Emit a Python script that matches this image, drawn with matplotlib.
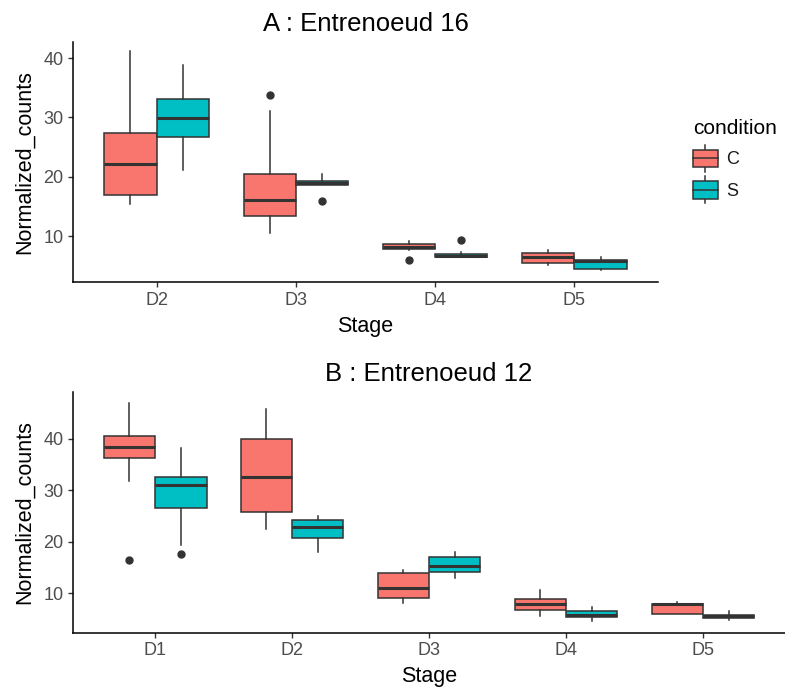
import matplotlib
matplotlib.use('Agg')
import matplotlib.pyplot as plt
from matplotlib.patches import Rectangle
from matplotlib.lines import Line2D
from matplotlib.legend_handler import HandlerBase

plt.rcParams['font.family'] = ['Liberation Sans', 'DejaVu Sans']

# =================
# DATA (box stats)
# =================
conditions = ['C', 'S']
cond_colors = ['#F8766D', '#00BFC4']

# A : Entrenoeud 16
stages_a = ['D2', 'D3', 'D4', 'D5']
a_c_whislo = [15.4, 10.5, 7.6, 5.05]
a_c_q1 = [16.9, 13.45, 7.85, 5.4]
a_c_med = [22.2, 16.0, 8.2, 6.4]
a_c_q3 = [27.4, 20.5, 8.64, 7.1]
a_c_whishi = [41.1, 31.1, 9.2, 7.7]
a_c_fliers = [[], [33.7], [5.9], []]

a_s_whislo = [21.1, 18.6, 6.4, 4.3]
a_s_q1 = [26.7, 18.6, 6.4, 4.4]
a_s_med = [29.95, 19.0, 6.65, 5.8]
a_s_q3 = [33.1, 19.3, 6.9, 5.95]
a_s_whishi = [38.8, 20.4, 7.3, 6.45]
a_s_fliers = [[], [15.9], [9.4], []]

# B : Entrenoeud 12
stages_b = ['D1', 'D2', 'D3', 'D4', 'D5']
b_c_whislo = [31.8, 22.5, 8.2, 5.65, 6.0]
b_c_q1 = [36.2, 25.7, 9.15, 6.85, 6.0]
b_c_med = [38.45, 32.6, 10.97, 7.9, 8.0]
b_c_q3 = [40.6, 40.0, 13.9, 8.9, 8.0]
b_c_whishi = [46.9, 45.7, 14.5, 10.6, 8.3]
b_c_fliers = [[16.4], [], [], [], []]

b_s_whislo = [19.4, 18.0, 12.9, 4.6, 4.8]
b_s_q1 = [26.6, 20.65, 14.2, 5.45, 5.2]
b_s_med = [30.95, 22.8, 15.2, 5.8, 5.55]
b_s_q3 = [32.5, 24.2, 17.05, 6.6, 5.8]
b_s_whishi = [38.1, 24.9, 17.95, 7.3, 6.6]
b_s_fliers = [[17.55], [], [], [], []]


def make_stats(whislo, q1, med, q3, whishi, fliers):
    return [dict(whislo=a, q1=b, med=c, q3=d, whishi=e, fliers=f)
            for a, b, c, d, e, f in zip(whislo, q1, med, q3, whishi, fliers)]


EDGE = '#333333'


def draw_panel(ax, stages, series, title, ylim):
    n = len(stages)
    w = 0.375
    for k, (stats, col) in enumerate(zip(series, cond_colors)):
        pos = [i + 1 + (k - 0.5) * w for i in range(n)]
        ax.bxp(stats, positions=pos, widths=w, patch_artist=True,
               showcaps=False, manage_ticks=False,
               boxprops=dict(facecolor=col, edgecolor=EDGE, linewidth=1.1),
               medianprops=dict(color=EDGE, linewidth=2.2, solid_capstyle='butt'),
               whiskerprops=dict(color=EDGE, linewidth=1.1),
               flierprops=dict(marker='o', markerfacecolor=EDGE,
                               markeredgecolor=EDGE, markersize=5))
    ax.set_xlim(0.4, n + 0.6)
    ax.set_ylim(*ylim)
    ax.set_xticks(range(1, n + 1))
    ax.set_xticklabels(stages)
    ax.set_yticks([10, 20, 30, 40])
    for s in ['top', 'right']:
        ax.spines[s].set_visible(False)
    for s in ['left', 'bottom']:
        ax.spines[s].set_linewidth(1.1)
        ax.spines[s].set_color('black')
    ax.tick_params(length=3.5, width=1.0, color=EDGE, labelcolor='#4D4D4D',
                   labelsize=13, pad=3.5)
    ax.set_xlabel('Stage', fontsize=15.5, labelpad=5)
    ax.set_ylabel('Normalized_counts', fontsize=15.5, labelpad=6)
    ax.set_title(title, fontsize=18.5, pad=8)


class BoxKey(HandlerBase):
    def create_artists(self, legend, orig_handle, xdescent, ydescent,
                       width, height, fontsize, trans):
        x0, y0 = -xdescent, -ydescent
        bh = height * 0.66
        by = y0 + (height - bh) / 2
        cx = x0 + width / 2
        box = Rectangle((x0, by), width, bh, facecolor=orig_handle.get_facecolor(),
                        edgecolor=EDGE, linewidth=1.1, transform=trans)
        med = Line2D([x0, x0 + width], [by + bh / 2] * 2, color=EDGE,
                     linewidth=1.1, transform=trans)
        w1 = Line2D([cx, cx], [y0, by], color=EDGE, linewidth=1.1, transform=trans)
        w2 = Line2D([cx, cx], [by + bh, y0 + height], color=EDGE,
                    linewidth=1.1, transform=trans)
        return [w1, w2, box, med]


# =================
# MAIN
# =================
fig = plt.figure(figsize=(7.85, 6.93), dpi=100)
ax1 = fig.add_axes([73 / 785, 411 / 693, 585 / 785, 240 / 693])
ax2 = fig.add_axes([73 / 785, 60.3 / 693, 712 / 785, 241 / 693])

draw_panel(ax1, stages_a,
           [make_stats(a_c_whislo, a_c_q1, a_c_med, a_c_q3, a_c_whishi, a_c_fliers),
            make_stats(a_s_whislo, a_s_q1, a_s_med, a_s_q3, a_s_whishi, a_s_fliers)],
           'A : Entrenoeud 16', (2.26, 42.7))
draw_panel(ax2, stages_b,
           [make_stats(b_c_whislo, b_c_q1, b_c_med, b_c_q3, b_c_whishi, b_c_fliers),
            make_stats(b_s_whislo, b_s_q1, b_s_med, b_s_q3, b_s_whishi, b_s_fliers)],
           'B : Entrenoeud 12', (2.35, 49.1))

handles = [Rectangle((0, 0), 1, 1, facecolor=c) for c in cond_colors]
leg = fig.legend(handles, conditions, title='condition',
                 handler_map={Rectangle: BoxKey()},
                 loc='upper left', bbox_to_anchor=(693 / 785, 1 - 119 / 693),
                 frameon=False, borderpad=0, borderaxespad=0,
                 fontsize=13, title_fontsize=15,
                 handlelength=1.38, handleheight=1.92, labelspacing=0.25,
                 handletextpad=0.45, alignment='left')
leg._legend_box.sep = 5
for t in leg.get_texts():
    t.set_color('#1A1A1A')

fig.savefig('out.png', dpi=100)
